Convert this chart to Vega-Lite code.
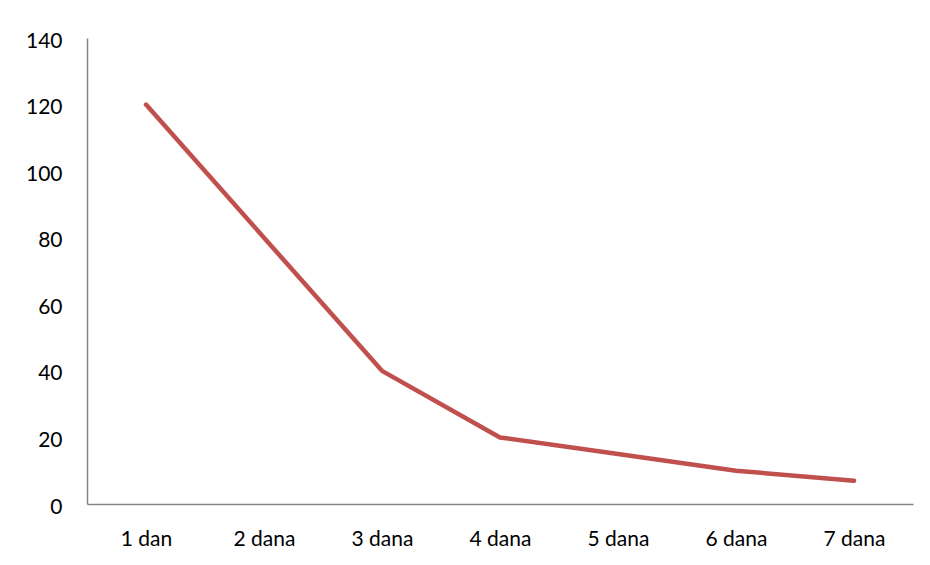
{
  "$schema": "https://vega.github.io/schema/vega-lite/v6.json",
  "autosize": "none",
  "width": 826,
  "height": 466,
  "padding": {"left": 87, "top": 38, "right": 17, "bottom": 61},
  "background": "white",
  "config": {
    "view": {"stroke": null},
    "font": "Lato"
  },
  "data": {
    "values": [
      {"dan": "1 dan", "value": 120},
      {"dan": "2 dana", "value": 80},
      {"dan": "3 dana", "value": 40},
      {"dan": "4 dana", "value": 20},
      {"dan": "5 dana", "value": 15},
      {"dan": "6 dana", "value": 10},
      {"dan": "7 dana", "value": 7}
    ]
  },
  "mark": {"type": "line", "color": "#C0504D", "strokeWidth": 4.5, "strokeCap": "round", "strokeJoin": "round"},
  "encoding": {
    "x": {
      "field": "dan",
      "type": "ordinal",
      "sort": null,
      "scale": {"type": "point", "padding": 0.5},
      "axis": {
        "title": null,
        "labelAngle": 0,
        "labelFontSize": 21,
        "labelColor": "#000000",
        "labelFont": "Lato",
        "labelPadding": 24,
        "ticks": false,
        "domainColor": "#868686",
        "domainWidth": 1.5,
        "grid": false
      }
    },
    "y": {
      "field": "value",
      "type": "quantitative",
      "scale": {"domain": [0, 140], "nice": false},
      "axis": {
        "title": null,
        "values": [0, 20, 40, 60, 80, 100, 120, 140],
        "labelFontSize": 21,
        "labelColor": "#000000",
        "labelFont": "Lato",
        "labelPadding": 25,
        "labelOffset": 3,
        "ticks": false,
        "domainColor": "#868686",
        "domainWidth": 1.5,
        "grid": false
      }
    }
  }
}
